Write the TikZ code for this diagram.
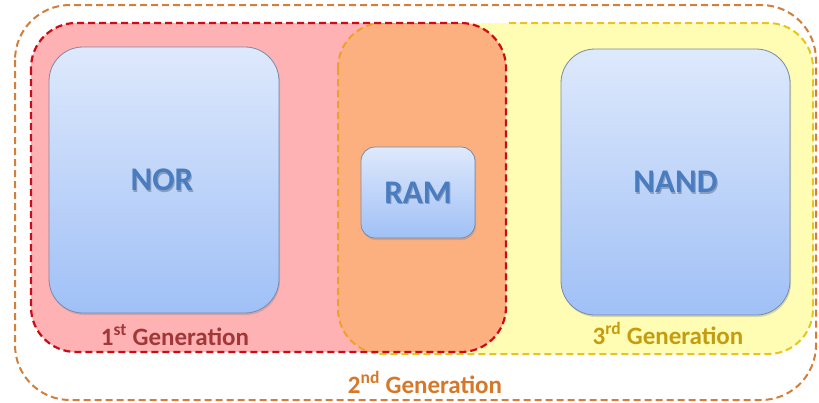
\documentclass[tikz,border=0pt]{standalone}
\usepackage{fontspec}
\setmainfont{Carlito}
\usetikzlibrary{shadows}
\definecolor{outerc}{RGB}{208,128,60}
\definecolor{redc}{RGB}{208,10,20}
\definecolor{pinkf}{RGB}{255,178,180}
\definecolor{yellowf}{RGB}{255,253,180}
\definecolor{yellowc}{RGB}{232,196,32}
\definecolor{orangef}{RGB}{252,176,128}
\definecolor{orangec}{RGB}{240,160,40}
\definecolor{boxtop}{RGB}{222,233,252}
\definecolor{boxbot}{RGB}{160,192,246}
\definecolor{boxdraw}{RGB}{120,138,168}
\definecolor{txtblue}{RGB}{74,125,192}
\definecolor{lab1}{RGB}{163,55,55}
\definecolor{lab2}{RGB}{214,120,40}
\definecolor{lab3}{RGB}{196,156,16}
\tikzset{
  dashline/.style={line width=2pt, dash pattern=on 7pt off 4pt},
  bluebox/.style={rectangle, draw=boxdraw, line width=0.8pt, top color=boxtop, bottom color=boxbot,
     drop shadow={shadow xshift=1pt, shadow yshift=-2pt, opacity=0.3}},
  boxtext/.style={font=\fontsize{33}{37}\selectfont\bfseries, text=txtblue},
  boxshadow/.style={font=\fontsize{33}{37}\selectfont\bfseries, text=black, opacity=0.25},
  genlabel/.style={font=\fontsize{25}{29}\selectfont\bfseries, anchor=base, inner sep=0pt}
}
\begin{document}
\begin{tikzpicture}[x=1pt,y=-1pt]
\useasboundingbox (0,0) rectangle (819,402);
% yellow (3rd generation) region
\fill[yellowf, rounded corners=45pt] (338,23) rectangle (813,354);
% red (1st generation) region
\fill[pinkf, rounded corners=45pt] (31,23) rectangle (506,352);
% overlap
\begin{scope}
  \clip[rounded corners=45pt] (31,23) rectangle (506,352);
  \fill[orangef, rounded corners=45pt] (338,23) rectangle (813,354);
  \draw[dashline, orangec, rounded corners=45pt] (338,23) rectangle (813,354);
\end{scope}
\begin{scope}
  \clip (506,0) rectangle (819,402);
  \draw[dashline, yellowc, rounded corners=45pt] (338,23) rectangle (813,354);
\end{scope}
\begin{scope}
  \clip (0,353) rectangle (506,402);
  \draw[dashline, yellowc, rounded corners=45pt] (338,23) rectangle (813,354);
\end{scope}
\draw[dashline, redc, line width=2.2pt, rounded corners=45pt] (31,23) rectangle (506,352);
% outer (2nd generation)
\draw[dashline, outerc, rounded corners=55pt] (15,5) rectangle (816,400);
% memory boxes
\node[bluebox, minimum width=230pt, minimum height=266pt, rounded corners=34pt] (nor) at (164,180) {};
\node[bluebox, minimum width=114pt, minimum height=91pt, rounded corners=14pt] (ram) at (418,192.5) {};
\node[bluebox, minimum width=229pt, minimum height=266pt, rounded corners=34pt] (nand) at (675.5,182) {};
\node[boxshadow] at ([xshift=-1pt,yshift=-1.5pt]nor.center) {NOR};
\node[boxtext] (nort) at ([xshift=-2pt]nor.center) {NOR};
\node[boxshadow] at ([xshift=1pt,yshift=-1.5pt]ram.center) {RAM};
\node[boxtext] (ramt) at (ram.center) {RAM};
\node[boxshadow] at ([xshift=1pt,yshift=-1.5pt]nand.center) {NAND};
\node[boxtext] (nandt) at (nand.center) {NAND};
% labels
\node[genlabel, text=lab1] (l1) at (175,345) {1\textsuperscript{st} Generation};
\node[genlabel, text=lab3] (l3) at (668,344) {3\textsuperscript{rd} Generation};
\node[genlabel, text=lab2] (l2) at (425,393) {2\textsuperscript{nd} Generation};
\end{tikzpicture}
\end{document}
